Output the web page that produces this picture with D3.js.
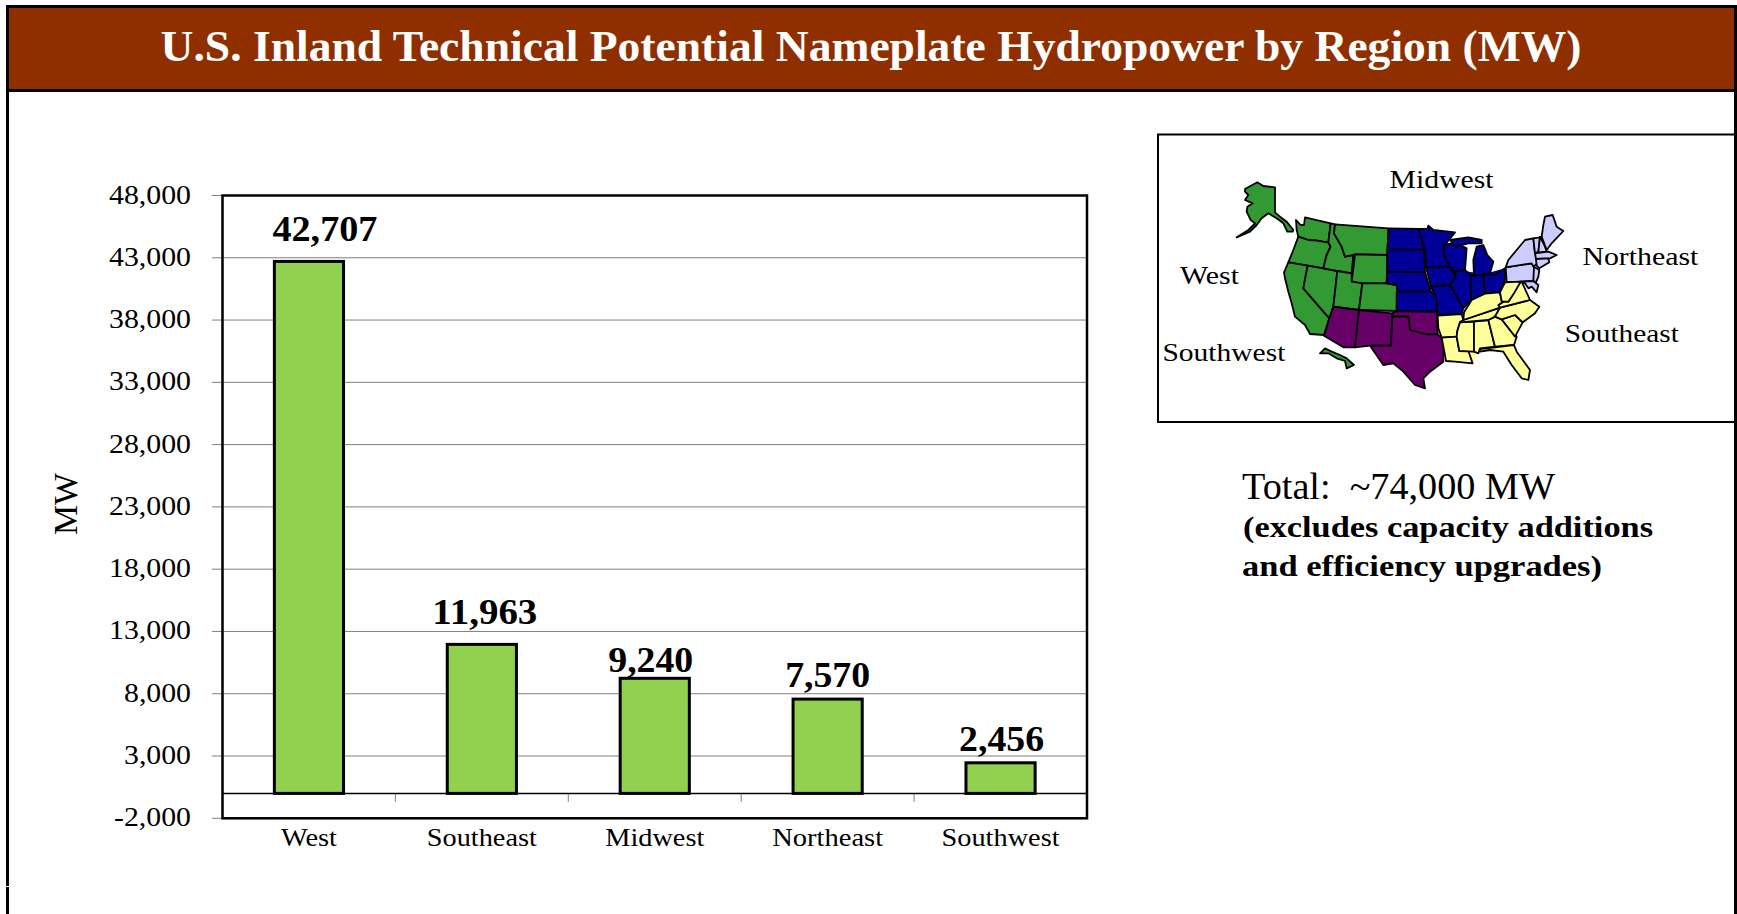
<!DOCTYPE html>
<html><head><meta charset="utf-8"><style>html,body{margin:0;padding:0;background:#fff;overflow:hidden}svg{display:block}text{font-family:"Liberation Serif",serif;fill:#000}</style>
<script src="https://cdn.jsdelivr.net/npm/d3@7"></script></head><body><svg id="c" width="1737" height="914"></svg>
<script>
const titleText="U.S. Inland Technical Potential Nameplate Hydropower by Region (MW)";
const categories=["West","Southeast","Midwest","Northeast","Southwest"];
const values=[42707,11963,9240,7570,2456];
const yTicks=[-2000,3000,8000,13000,18000,23000,28000,33000,38000,43000,48000];
const categoryLabelWidths=[56,110,99,111,118];
const valueLabelShift=[[16,-20],[3,-20],[-4,-6],[0,-12],[1,-12]];
const mapLabels=[["Midwest",1389.6,187.7,104],["West",1180,284,59],["Northeast",1582.4,265,116],["Southeast",1564.8,341.7,114],["Southwest",1162.4,361,123]];
const regionColors={West:"#339933",Southwest:"#660066",Midwest:"#000099",Northeast:"#CCCCFF",Southeast:"#FFFF99"};
// outlines, each group in its own crop frame
const westernShapes={
West:[
[[45,42],[82,22],[100,33],[135,37],[135,112],[150,125],[170,140],[190,165],[188,170],[172,170],[160,145],[140,130],[115,115],[95,130],[80,150],[60,170],[20,187],[55,165],[75,145],[62,135],[50,110],[52,95],[68,85],[45,75],[55,60],[45,50]],
[[225,127],[302,145],[295,203],[262,197],[235,195],[205,185],[200,165],[198,135],[212,150],[222,150]],
[[205,185],[235,195],[262,197],[295,203],[302,215],[290,240],[280,280],[233,272],[175,262],[190,225]],
[[175,262],[233,272],[220,340],[298,430],[282,480],[240,477],[225,450],[195,425],[185,385],[175,350],[165,310],[162,292]],
[[233,272],[280,280],[322,288],[310,395],[298,430],[220,340]],
[[302,145],[315,148],[312,175],[335,215],[345,245],[370,240],[365,295],[322,288],[280,280],[290,240],[302,215],[295,203]],
[[315,148],[475,160],[472,240],[375,238],[370,240],[345,245],[335,215],[312,175]],
[[375,238],[472,240],[470,325],[397,325],[365,320]],
[[322,288],[365,295],[365,320],[397,325],[387,405],[310,395]],
[[397,325],[470,325],[502,332],[500,408],[387,405]],
[[270,535],[285,520],[305,530],[330,540],[350,550],[372,570],[350,580],[345,558],[320,550],[295,535]]
],
Southwest:[
[[310,395],[387,405],[375,517],[340,517],[282,482],[298,430]],
[[387,405],[487,415],[483,512],[420,512],[375,517]],
[[487,415],[500,408],[620,410],[623,478],[590,478],[565,472],[540,465],[535,425],[487,425]],
[[487,425],[535,425],[540,465],[565,472],[590,478],[623,478],[640,495],[640,560],[600,590],[580,610],[585,640],[555,630],[520,590],[490,565],[460,570],[420,512],[483,512]]
],
Midwest:[
[[477,160],[568,162],[582,224],[472,224]],
[[472,224],[582,224],[585,292],[472,290]],
[[472,290],[585,292],[603,350],[503,350],[500,328],[470,325]],
[[500,350],[603,350],[618,370],[620,410],[500,408]]
]};
const easternBase={
Midwest:[[78,72],[130,125],[165,113],[195,130],[195,198],[250,208],[315,190],[315,225],[300,262],[213,285],[190,310],[185,325],[113,330],[93,245],[78,187]],
Southeast:[[113,332],[190,325],[215,285],[255,266],[300,262],[315,232],[365,230],[390,285],[418,305],[405,325],[368,352],[345,395],[342,420],[285,427],[240,432],[218,475],[138,468],[125,398]]
};
const easternShapes={
Midwest:[
[[55,72],[82,72],[85,62],[100,75],[165,82],[130,125],[132,150],[150,185],[78,187],[75,135]],
[[78,187],[150,185],[167,215],[150,240],[93,245]],
[[93,245],[150,240],[165,265],[190,310],[185,327],[113,330],[110,280]],
[[132,120],[165,113],[200,130],[195,195],[165,200],[150,185],[132,150]],
[[165,200],[195,195],[213,212],[213,285],[190,310],[165,265],[150,240],[167,215]],
[[213,212],[250,208],[255,266],[213,285]],
[[250,208],[285,210],[315,190],[315,225],[300,262],[255,266]],
[[150,105],[205,97],[245,105],[245,115],[205,115],[165,125]],
[[220,165],[230,125],[250,120],[262,150],[280,170],[270,205],[222,212]]
],
Northeast:[
[[317,187],[395,175],[408,195],[400,228],[320,232]],
[[325,165],[350,135],[375,105],[400,100],[405,145],[418,170],[400,185],[395,175],[317,187]],
[[400,100],[420,97],[415,140],[405,145]],
[[420,95],[435,125],[440,140],[415,143]],
[[430,60],[435,35],[458,30],[470,65],[490,78],[455,115],[440,135],[425,95]],
[[405,145],[445,140],[470,150],[450,160],[408,162]],
[[408,162],[445,160],[448,172],[418,190],[410,182]],
[[402,185],[418,195],[415,215],[408,232],[400,228]],
[[362,230],[400,228],[415,240],[410,262],[395,245],[385,250],[375,235]]
],
Southeast:[
[[113,332],[185,327],[190,345],[180,352],[172,378],[170,395],[125,398],[115,370]],
[[125,398],[170,395],[178,438],[205,438],[218,475],[165,470],[138,468],[133,440]],
[[180,352],[222,350],[222,440],[178,438],[170,395],[172,378]],
[[222,350],[265,345],[285,425],[240,430],[235,445],[222,440]],
[[265,345],[285,335],[305,343],[350,395],[342,420],[285,425]],
[[305,343],[345,330],[368,352],[345,395]],
[[240,432],[285,427],[342,420],[350,440],[390,495],[385,525],[365,520],[335,480],[310,440],[270,435],[240,440]],
[[190,345],[300,308],[285,335],[265,345],[180,352]],
[[300,308],[390,285],[418,305],[405,325],[368,352],[345,330],[305,343],[285,335]],
[[295,300],[310,290],[325,290],[362,230],[365,230],[390,285],[300,308]],
[[192,322],[215,285],[255,266],[300,262],[305,288],[310,290],[295,300],[300,308],[190,345]],
[[300,262],[315,232],[362,230],[340,268],[325,290],[310,290],[305,288]]
]};

const svg=d3.select("#c");
const fit=(s,w)=>s.attr("textLength",w).attr("lengthAdjust","spacingAndGlyphs");

// banner
svg.append("rect").attr("x",9).attr("y",8).attr("width",1725).attr("height",81).attr("fill","#8F2F00");
fit(svg.append("text").attr("x",160.5).attr("y",60.5).attr("font-size",44).attr("font-weight",700).style("fill","#fff").text(titleText),1421);

// chart
const x=d3.scaleBand().domain(categories).range([222.5,1087]).paddingInner(0.6).paddingOuter(0.3);
const y=d3.scaleLinear().domain([-2000,48000]).range([818.3,195.5]);
const fmt=d3.format(",");
const label=d=>fmt(d).replace("\u2212","-");
const bandStep=x.step();

svg.append("g").selectAll("line").data(yTicks).join("line")
 .attr("x1",212).attr("x2",1087).attr("y1",d=>y(d)).attr("y2",d=>y(d)).attr("stroke","#808080").attr("stroke-width",1);
svg.append("g").selectAll("line").data(categories.slice(1)).join("line")
 .attr("x1",d=>x(d)+x.bandwidth()/2-bandStep/2).attr("x2",d=>x(d)+x.bandwidth()/2-bandStep/2)
 .attr("y1",y(0)).attr("y2",y(0)+8.5).attr("stroke","#808080").attr("stroke-width",1);
svg.append("line").attr("x1",222.5).attr("x2",1087).attr("y1",y(0)).attr("y2",y(0)).attr("stroke","#000").attr("stroke-width",1.5);
svg.append("g").selectAll("rect").data(values).join("rect")
 .attr("x",(d,i)=>x(categories[i])).attr("width",x.bandwidth())
 .attr("y",d=>y(d)).attr("height",d=>y(0)-y(d))
 .attr("fill","#92D050").attr("stroke","#000").attr("stroke-width",3);
svg.append("rect").attr("x",222.5).attr("y",195.5).attr("width",864.5).attr("height",622.8).attr("fill","none").attr("stroke","#000").attr("stroke-width",2.5);

const yAxis=d3.axisLeft(y).tickValues(yTicks).tickFormat(label).tickSize(0).tickPadding(0);
const gy=svg.append("g").attr("transform","translate(191,0)").call(yAxis);
gy.select(".domain").remove();
gy.selectAll("text").attr("font-size",27).attr("dy",null).attr("y",7.5).each(function(d){
  const w=d<0?77:(String(Math.abs(d)).length===5?82:67);
  d3.select(this).attr("textLength",w).attr("lengthAdjust","spacingAndGlyphs");
}).style("font-family",'"Liberation Serif",serif').style("fill","#000");

svg.append("g").selectAll("text").data(categories).join("text")
 .attr("x",(d,i)=>x(d)+x.bandwidth()/2-categoryLabelWidths[i]/2).attr("y",845.7).attr("font-size",25)
 .attr("textLength",(d,i)=>categoryLabelWidths[i]).attr("lengthAdjust","spacingAndGlyphs").text(d=>d);

svg.append("g").selectAll("text").data(values).join("text")
 .attr("text-anchor","middle")
 .attr("x",(d,i)=>x(categories[i])+x.bandwidth()/2+valueLabelShift[i][0])
 .attr("y",(d,i)=>y(d)+valueLabelShift[i][1])
 .attr("font-size",36).attr("font-weight",700)
 .attr("textLength",d=>d>=10000?105:85).attr("lengthAdjust","spacingAndGlyphs").text(d=>fmt(d));

svg.append("text").attr("transform","translate(76.5,535) rotate(-90)").attr("font-size",34).attr("textLength",62).attr("lengthAdjust","spacingAndGlyphs").text("MW");

// inset map
svg.append("rect").attr("x",1158).attr("y",134.5).attr("width",590).attr("height",287.5).attr("fill","#fff").attr("stroke","#000").attr("stroke-width",2);
const mapPath=(x0,y0)=>{
  const mx=d3.scaleLinear().domain([0,3]).range([x0,x0+1]);
  const my=d3.scaleLinear().domain([0,3]).range([y0,y0+1]);
  return d3.line().x(p=>mx(p[0])).y(p=>my(p[1])).curve(d3.curveLinearClosed);
};
const drawMap=(shapes,x0,y0)=>{
  const path=mapPath(x0,y0);
  Object.keys(shapes).forEach(r=>{
    svg.append("g").selectAll("path").data(shapes[r]).join("path").attr("d",path)
     .attr("fill",regionColors[r]).attr("stroke","#000").attr("stroke-width",1.8).attr("stroke-linejoin","round");
  });
};
drawMap(westernShapes,1230,175);
const basePath=mapPath(1400,205);
Object.keys(easternBase).forEach(r=>svg.append("path").attr("d",basePath(easternBase[r])).attr("fill",regionColors[r]));
drawMap(easternShapes,1400,205);
svg.append("g").selectAll("text").data(mapLabels).join("text")
 .attr("x",d=>d[1]).attr("y",d=>d[2]).attr("font-size",26).attr("textLength",d=>d[3]).attr("lengthAdjust","spacingAndGlyphs").text(d=>d[0]);

// notes
fit(svg.append("text").attr("x",1242).attr("y",498.5).attr("font-size",37).attr("xml:space","preserve").style("white-space","pre").text("Total:  ~74,000 MW"),313);
fit(svg.append("text").attr("x",1243).attr("y",537).attr("font-size",30).attr("font-weight",700).text("(excludes capacity additions"),410);
fit(svg.append("text").attr("x",1242).attr("y",576).attr("font-size",30).attr("font-weight",700).text("and efficiency upgrades)"),360);

// outer frame on top
svg.append("rect").attr("x",6).attr("y",5).attr("width",1731).attr("height",3).attr("fill","#000");
svg.append("rect").attr("x",6).attr("y",5).attr("width",3).attr("height",881).attr("fill","#000");
svg.append("rect").attr("x",6).attr("y",887).attr("width",3).attr("height",27).attr("fill","#000");
svg.append("rect").attr("x",1734).attr("y",5).attr("width",3).attr("height",909).attr("fill","#000");
svg.append("rect").attr("x",6).attr("y",89).attr("width",1731).attr("height",3).attr("fill","#000");
</script></body></html>
